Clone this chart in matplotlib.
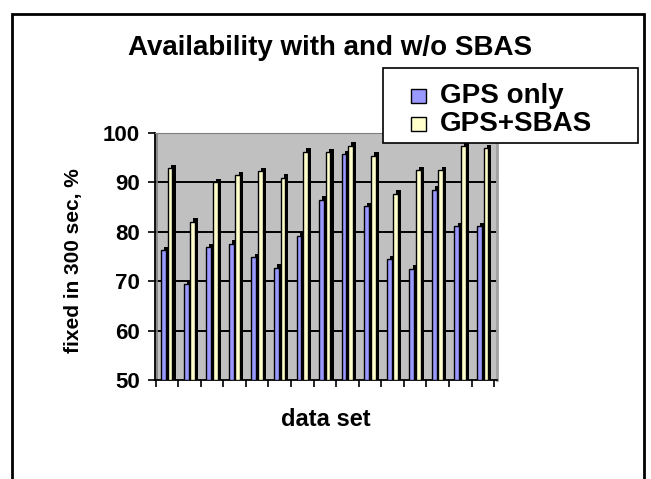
import numpy as np
import matplotlib.pyplot as plt
from matplotlib.patches import Rectangle

plt.rcParams['font.family'] = ['Liberation Sans', 'DejaVu Sans']
plt.rcParams['font.weight'] = 'bold'

# fix availability per data set, %
gps_only = [76.3, 69.4, 76.9, 77.6, 74.8, 72.7, 79.2, 86.5, 95.7, 85.2, 74.5, 72.5, 88.5, 81.1, 81.1]
gps_sbas = [92.9, 82.0, 90.0, 91.4, 92.3, 90.9, 96.2, 96.1, 97.4, 95.4, 87.7, 92.5, 92.5, 97.3, 96.9]
series_names = ["GPS only", "GPS+SBAS"]
yticks = [50, 60, 70, 80, 90, 100]

blue = '#9999ff'
yellow = '#ffffcc'
W, H = 651, 479

fig = plt.figure(figsize=(W/100, H/100), dpi=100)
ax = fig.add_axes([155/W, 99/H, 342/W, 247/H])
ax.set_facecolor('#c0c0c0')

x = np.arange(len(gps_only))
w = 0.21
base = yticks[0]

# dark back faces give the old "3-D column" look
for off, vals, col in [(-0.15, gps_only, blue), (0.14, gps_sbas, yellow)]:
    v = np.array(vals)
    ax.bar(x + off + 0.14, v - base + 0.7, bottom=base, width=w,
           color='black', zorder=2)
    ax.bar(x + off, v - base, bottom=base, width=w, color=col,
           edgecolor='black', linewidth=1, zorder=3)

for g in yticks[1:-1]:
    ax.axhline(g, color='black', lw=1.4, zorder=1)

ax.set_ylim(50, 100)
ax.set_xlim(-0.53, len(x) - 0.37)
ax.set_yticks(yticks)
ax.set_yticklabels([str(t) for t in yticks], fontsize=16, fontweight='bold')
ax.set_xticks(np.arange(len(x) + 1) - 0.5)
ax.set_xticklabels([])
ax.tick_params(axis='both', direction='out', length=5, width=1.2, color='black')
ax.tick_params(axis='y', pad=6)

ax.spines['left'].set_color('black')
ax.spines['bottom'].set_color('black')
ax.spines['left'].set_linewidth(1.3)
ax.spines['bottom'].set_linewidth(1.3)
ax.spines['top'].set_color('#808080')
ax.spines['right'].set_color('#a0a0a0')
ax.spines['right'].set_linewidth(2)
ax.axvline(-0.42, color='#808080', lw=1.2, zorder=1)

fig.text(74/W, 1 - 261/H, "fixed in 300 sec, %", rotation=90,
         fontsize=15, fontweight='bold', ha='center', va='center')
fig.text(326/W, 1 - 419/H, "data set",
         fontsize=17, fontweight='bold', ha='center', va='center')
fig.text(330/W, 1 - 55/H, "Availability with and w/o SBAS",
         fontsize=20, fontweight='bold', ha='center', va='baseline')

# legend box
fig.patches.append(Rectangle((383/W, 1 - 143/H), 255/W, 75/H,
                             transform=fig.transFigure, facecolor='white',
                             edgecolor='black', lw=1.2, zorder=10))
for k, (name, col) in enumerate(zip(series_names, [blue, yellow])):
    base_y = 103 + 28 * k
    fig.patches.append(Rectangle((411/W, 1 - base_y/H), 15/W, 14/H,
                                 transform=fig.transFigure, facecolor=col,
                                 edgecolor='black', lw=1, zorder=11))
    fig.text(440/W, 1 - base_y/H, name, fontsize=20, fontweight='bold',
             ha='left', va='baseline', zorder=12)

# outer chart border, running off the bottom of the image
fig.patches.append(Rectangle((12/W, -0.1), 632/W, 1.1 - 14/H,
                             transform=fig.transFigure, fill=False,
                             edgecolor='black', lw=2))

fig.savefig('out.png', dpi=100)
